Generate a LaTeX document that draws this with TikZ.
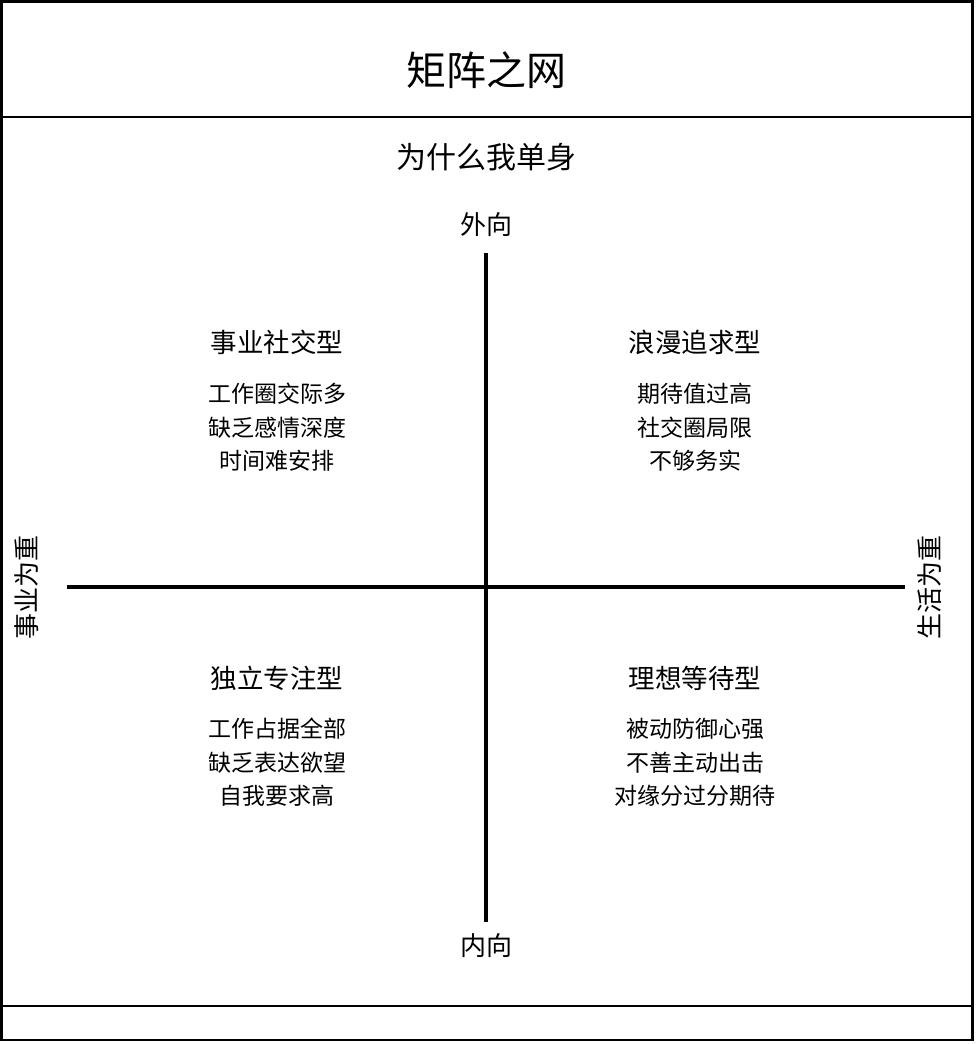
\documentclass[tikz,border=0pt]{standalone}
\usepackage{fontspec}
\newfontfamily\cjk{Noto Sans CJK SC}
\begin{document}
\begin{tikzpicture}[x=1pt,y=-1pt,
  frame/.style={draw=black,line width=2.6pt},
  axis/.style={draw=black,line width=3.4pt},
  txt/.style={font=\cjk\fontsize{#1}{#1}\selectfont,inner sep=0pt,anchor=center},
  txt/.default=23]
\useasboundingbox (0,0) rectangle (976,1044);
\fill[white] (0,0) rectangle (976,1044);
\draw[frame] (1.5,1.5) rectangle (972.5,1040);
\draw[frame] (1.5,117) -- (972.5,117);
\draw[frame] (1.5,1006) -- (972.5,1006);
\node[txt=40] (title) at (486,70) {矩阵之网};
\node[txt=30] (sub) at (486,157) {为什么我单身};
\coordinate (vt) at (486,253);
\coordinate (vb) at (486,922);
\coordinate (hl) at (67,587);
\coordinate (hr) at (905,587);
\draw[axis] (vt) -- (vb);
\draw[axis] (hl) -- (hr);
\node[txt=26] (up) at (486,225) {外向};
\node[txt=26] (down) at (486,946) {内向};
\node[txt=26,rotate=90] (left) at (27,587) {事业为重};
\node[txt=26,rotate=90] (right) at (930,587) {生活为重};
\node[txt=26.5] (q1) at (277,342) {事业社交型};
\node[txt] (q1a) at (277,394) {工作圈交际多};
\node[txt] (q1b) at (277,428) {缺乏感情深度};
\node[txt] (q1c) at (277,461) {时间难安排};
\node[txt=26.5] (q2) at (695,342) {浪漫追求型};
\node[txt] (q2a) at (695,394) {期待值过高};
\node[txt] (q2b) at (695,428) {社交圈局限};
\node[txt] (q2c) at (695,461) {不够务实};
\node[txt=26.5] (q3) at (277,678) {独立专注型};
\node[txt] (q3a) at (277,729) {工作占据全部};
\node[txt] (q3b) at (277,763) {缺乏表达欲望};
\node[txt] (q3c) at (277,796) {自我要求高};
\node[txt=26.5] (q4) at (695,678) {理想等待型};
\node[txt] (q4a) at (695,729) {被动防御心强};
\node[txt] (q4b) at (695,763) {不善主动出击};
\node[txt] (q4c) at (695,796) {对缘分过分期待};
\end{tikzpicture}
\end{document}
